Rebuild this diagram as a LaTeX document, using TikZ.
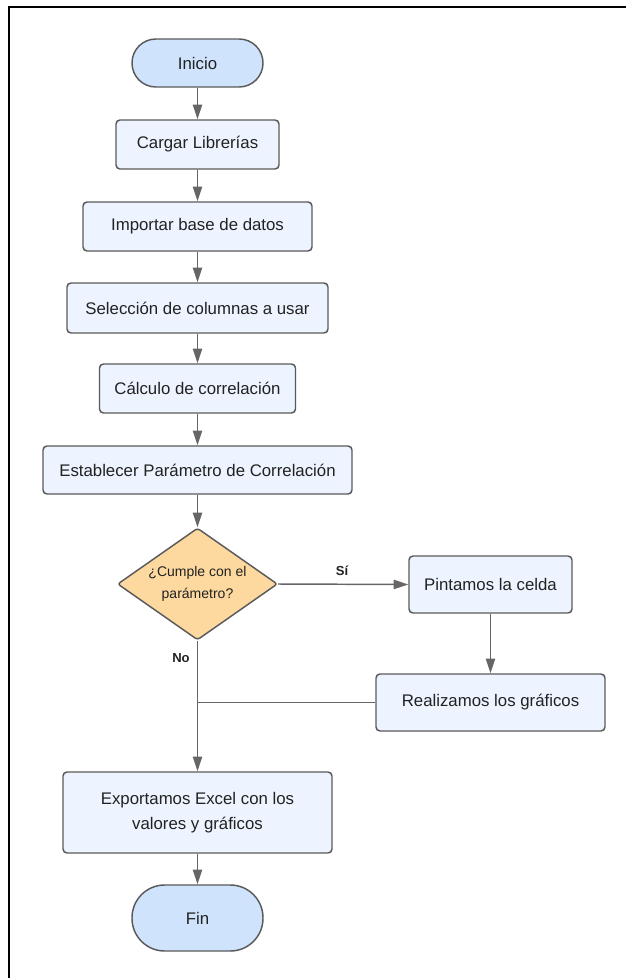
\documentclass[tikz,border=0pt]{standalone}
\usepackage{fontspec}
\setmainfont{Liberation Sans}
\usetikzlibrary{shapes.geometric,arrows.meta}
\definecolor{termfill}{HTML}{CFE3FD}
\definecolor{boxfill}{HTML}{EDF4FF}
\definecolor{decfill}{HTML}{FDD89F}
\definecolor{edgecol}{HTML}{5A5A5A}
\definecolor{arrcol}{HTML}{666666}
\definecolor{txtcol}{HTML}{222222}
\tikzset{
  base/.style={draw=edgecol, line width=1.1pt, text=txtcol, font=\fontsize{12.6}{19}\selectfont, align=center, inner sep=0pt},
  term/.style={base, fill=termfill},
  procbox/.style={base, fill=boxfill, rounded corners=3pt},
  decision/.style={base, fill=decfill, diamond, rounded corners=2pt, aspect=1.43, font=\fontsize{10.5}{16.5}\selectfont},
  conn/.style={draw=arrcol, line width=1.1pt, -{Triangle[length=11pt,width=7pt]}},
  plainconn/.style={draw=arrcol, line width=1.1pt},
  lbl/.style={font=\fontsize{9.8}{12}\selectfont\bfseries, text=txtcol, inner sep=0pt}
}
\begin{document}
\begin{tikzpicture}[x=0.75pt,y=-0.75pt]
\useasboundingbox (0,0) rectangle (626,978);
\coordinate (fbl) at (9,978);
\coordinate (ftl) at (9,7);
\coordinate (ftr) at (626,7);
\draw[black, line width=1.6pt] (fbl) -- (ftl) -- (ftr);

\node[term, rounded corners=17.9pt, minimum width={131*0.75pt}, minimum height={48*0.75pt}] (inicio) at (197.5,63) {Inicio};
\node[procbox, minimum width={163*0.75pt}, minimum height={49*0.75pt}] (cargar) at (197.5,144.5) {Cargar Librerías};
\node[procbox, minimum width={229*0.75pt}, minimum height={49*0.75pt}] (importar) at (197.5,226.5) {Importar base de datos};
\node[procbox, minimum width={261*0.75pt}, minimum height={50*0.75pt}] (seleccion) at (197.5,308) {Selección de columnas a usar};
\node[procbox, minimum width={196*0.75pt}, minimum height={49*0.75pt}] (calculo) at (197.5,388.5) {Cálculo de correlación};
\node[procbox, minimum width={309*0.75pt}, minimum height={48*0.75pt}] (establecer) at (197.5,470) {Establecer Parámetro de Correlación};
\node[decision, minimum width={160*0.75pt}, minimum height={112*0.75pt}] (cumple) at (197.5,584) {¿Cumple con el\\parámetro?};
\node[procbox, minimum width={163*0.75pt}, minimum height={57*0.75pt}] (pintamos) at (490.5,584.5) {Pintamos la celda};
\node[procbox, minimum width={229*0.75pt}, minimum height={57*0.75pt}] (realizamos) at (490.5,702.5) {Realizamos los gráficos};
\node[procbox, minimum width={269*0.75pt}, minimum height={81*0.75pt}] (exportamos) at (197.5,812.5) {Exportamos Excel con los\\valores y gráficos};
\node[term, rounded corners=24.5pt, minimum width={131*0.75pt}, minimum height={66*0.75pt}] (fin) at (197.5,918) {Fin};

\draw[conn] (inicio) -- (cargar);
\draw[conn] (cargar) -- (importar);
\draw[conn] (importar) -- (seleccion);
\draw[conn] (seleccion) -- (calculo);
\draw[conn] (calculo) -- (establecer);
\draw[conn] (establecer) -- (cumple);
\draw[conn] (cumple.east) -- (pintamos.west);
\draw[conn] (pintamos) -- (realizamos);
\draw[conn] (cumple.south) -- (exportamos.north);
\coordinate (merge) at (197.5,702.5);
\draw[plainconn] (realizamos.west) -- (merge);
\draw[conn] (exportamos) -- (fin);

\node[lbl] (si) at (342,571) {Sí};
\node[lbl] (no) at (181,658) {No};
\end{tikzpicture}
\end{document}
